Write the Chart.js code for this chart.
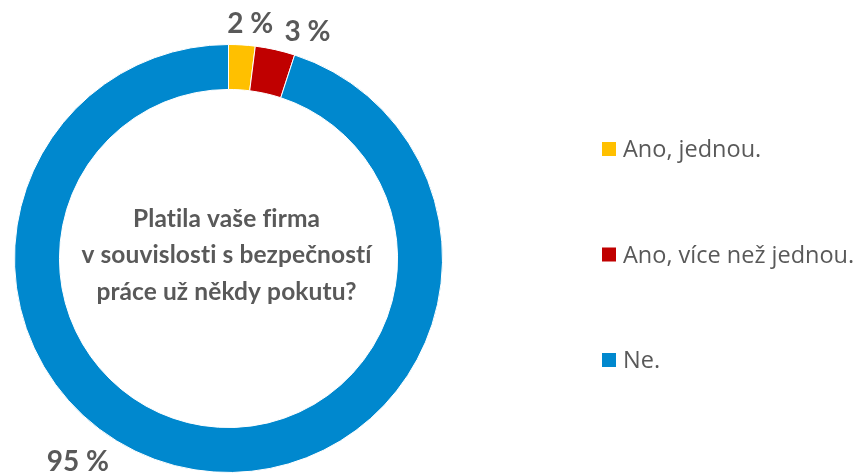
<!DOCTYPE html>
<html>
<head>
<meta charset="utf-8">
<script src="https://cdn.jsdelivr.net/npm/chart.js@4"></script>
<style>
  html, body { margin: 0; padding: 0; background: #fff; }
  #wrap { width: 858px; height: 475px; position: relative; }
</style>
</head>
<body>
<div id="wrap"><canvas id="pokuta-chart"></canvas></div>
<script>
const labels = ['Ano, jednou.', 'Ano, více než jednou.', 'Ne.'];
const values = [2, 3, 95];
const valueLabels = ['2 %', '3 %', '95 %'];
const centerLines = ['Platila vaše firma', 'v souvislosti s bezpečností', 'práce už někdy pokutu?'];

const colors = ['#FFC000', '#C00000', '#0088CE'];
const textColor = '#595959';
// nudges for the outside value labels (Excel moved them by hand)
const labelNudge = [[7, -1], [28, 2], [-114, -28]];

const data = {
  labels: labels,
  datasets: [{
    data: values,
    backgroundColor: colors,
    borderColor: '#ffffff',
    borderWidth: 1,
    hoverOffset: 0,
  }]
};

// value labels outside the ring + text in the hole + legend on the right
const extras = {
  id: 'extras',
  afterDraw(chart) {
    const ctx = chart.ctx;
    const arcs = chart.getDatasetMeta(0).data;
    ctx.save();
    ctx.fillStyle = textColor;
    ctx.textAlign = 'center';
    ctx.textBaseline = 'middle';

    ctx.font = 'bold 28px Lato';
    arcs.forEach((arc, i) => {
      const mid = (arc.startAngle + arc.endAngle) / 2;
      const r = arc.outerRadius + 20;
      const x = arc.x + Math.cos(mid) * r + labelNudge[i][0];
      const y = arc.y + Math.sin(mid) * r + labelNudge[i][1];
      ctx.fillText(valueLabels[i], x, y);
    });

    // question in the hole
    const cx = arcs[0].x - 2;
    const cy = arcs[0].y;
    ctx.textBaseline = 'alphabetic';
    ctx.font = 'bold 24.5px Lato';
    ctx.letterSpacing = '0.1px';
    centerLines.forEach((line, i) => {
      ctx.fillText(line, cx, cy + 4.5 + (i - 1) * 36.5);
    });
    ctx.letterSpacing = '0px';

    // legend
    ctx.textAlign = 'left';
    ctx.font = '23.5px "Open Sans"';
    labels.forEach((lab, i) => {
      const y = 142 + i * 105.5;
      ctx.fillStyle = colors[i];
      ctx.fillRect(602, y, 14, 14);
      ctx.fillStyle = textColor;
      ctx.fillText(lab, 623, y + 15);
    });
    ctx.restore();
  }
};

const config = {
  type: 'doughnut',
  data: data,
  options: {
    responsive: true,
    maintainAspectRatio: false,
    animation: false,
    cutout: '79%',
    layout: { padding: { left: 14, top: 44, bottom: 2, right: 415 } },
    plugins: {
      legend: { display: false },
      tooltip: { enabled: false },
    }
  },
  plugins: [extras]
};

const ctx = document.getElementById('pokuta-chart');
new Chart(ctx, config);
</script>
</body>
</html>
